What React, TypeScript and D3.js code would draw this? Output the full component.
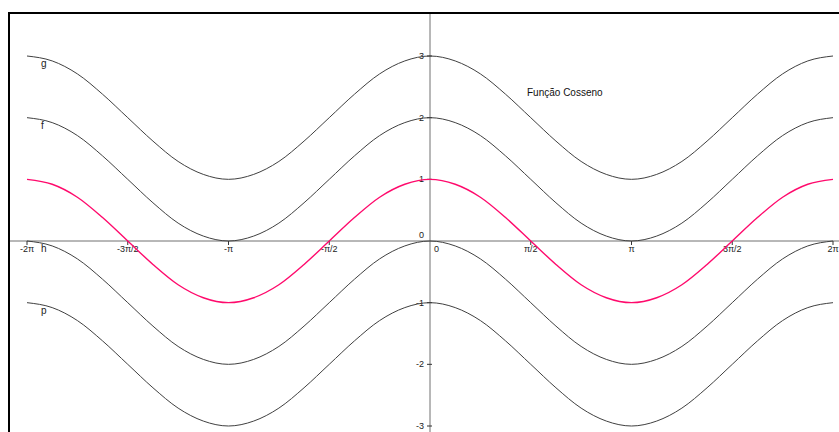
import { useEffect, useRef } from 'react';
import * as d3 from 'd3';

// x positions in multiples of pi
const xPi = [
  -2, -1.875, -1.75, -1.625, -1.5, -1.375, -1.25, -1.125, -1, -0.875, -0.75, -0.625, -0.5, -0.375, -0.25, -0.125,
  0, 0.125, 0.25, 0.375, 0.5, 0.625, 0.75, 0.875, 1, 1.125, 1.25, 1.375, 1.5, 1.625, 1.75, 1.875, 2,
];

const gValues = [3, 2.92, 2.71, 2.38, 2, 1.62, 1.29, 1.08, 1, 1.08, 1.29, 1.62, 2, 2.38, 2.71, 2.92, 3, 2.92, 2.71, 2.38, 2, 1.62, 1.29, 1.08, 1, 1.08, 1.29, 1.62, 2, 2.38, 2.71, 2.92, 3];
const fValues = [2, 1.92, 1.71, 1.38, 1, 0.62, 0.29, 0.08, 0, 0.08, 0.29, 0.62, 1, 1.38, 1.71, 1.92, 2, 1.92, 1.71, 1.38, 1, 0.62, 0.29, 0.08, 0, 0.08, 0.29, 0.62, 1, 1.38, 1.71, 1.92, 2];
const cosValues = [1, 0.92, 0.71, 0.38, 0, -0.38, -0.71, -0.92, -1, -0.92, -0.71, -0.38, 0, 0.38, 0.71, 0.92, 1, 0.92, 0.71, 0.38, 0, -0.38, -0.71, -0.92, -1, -0.92, -0.71, -0.38, 0, 0.38, 0.71, 0.92, 1];
const hValues = [0, -0.08, -0.29, -0.62, -1, -1.38, -1.71, -1.92, -2, -1.92, -1.71, -1.38, -1, -0.62, -0.29, -0.08, 0, -0.08, -0.29, -0.62, -1, -1.38, -1.71, -1.92, -2, -1.92, -1.71, -1.38, -1, -0.62, -0.29, -0.08, 0];
const pValues = [-1, -1.08, -1.29, -1.62, -2, -2.38, -2.71, -2.92, -3, -2.92, -2.71, -2.38, -2, -1.62, -1.29, -1.08, -1, -1.08, -1.29, -1.62, -2, -2.38, -2.71, -2.92, -3, -2.92, -2.71, -2.38, -2, -1.62, -1.29, -1.08, -1];

const xTickPi = [-2, -1.5, -1, -0.5, 0.5, 1, 1.5, 2];
const xTickLabels = ['-2π', '-3π/2', '-π', '-π/2', 'π/2', 'π', '3π/2', '2π'];
const yTicks = [-3, -2, -1, 1, 2, 3];

const W = 839;
const H = 432;

export default function App() {
  const svgRef = useRef<SVGSVGElement>(null);

  useEffect(() => {
    if (!svgRef.current) return;
    const svg = d3.select(svgRef.current);
    svg.selectAll('*').remove();

    const x = d3.scaleLinear().domain([-2 * Math.PI, 2 * Math.PI]).range([27, 833]);
    const y = d3.scaleLinear().domain([-3, 3]).range([426, 56]);
    const x0 = x(0);
    const y0 = y(0);
    const font = 'Liberation Sans, Arial, sans-serif';

    svg.append('rect').attr('width', W).attr('height', H).attr('fill', '#fff');

    // axes
    svg.append('line')
      .attr('x1', 9).attr('x2', W).attr('y1', y0).attr('y2', y0)
      .attr('stroke', '#707070').attr('stroke-width', 1);
    svg.append('line')
      .attr('x1', x0).attr('x2', x0).attr('y1', 13).attr('y2', H)
      .attr('stroke', '#707070').attr('stroke-width', 1);

    // x ticks
    const xt = svg.append('g');
    xTickPi.forEach((v, i) => {
      const px = x(v * Math.PI);
      xt.append('line')
        .attr('x1', px).attr('x2', px).attr('y1', y0).attr('y2', y0 + 4)
        .attr('stroke', '#333');
      xt.append('text')
        .attr('x', px).attr('y', y0 + 11)
        .attr('text-anchor', 'middle')
        .style('font-family', font).style('font-size', '9px').style('fill', '#222')
        .text(xTickLabels[i]);
    });
    xt.append('text')
      .attr('x', x0 + 4).attr('y', y0 + 11)
      .style('font-family', font).style('font-size', '9px').style('fill', '#222')
      .text('0');

    // y ticks
    const yt = svg.append('g');
    yTicks.forEach(v => {
      const py = y(v);
      yt.append('line')
        .attr('x1', x0 - 3).attr('x2', x0 + 2).attr('y1', py).attr('y2', py)
        .attr('stroke', '#333');
      yt.append('text')
        .attr('x', x0 - 6).attr('y', py + 3)
        .attr('text-anchor', 'end')
        .style('font-family', font).style('font-size', '9px').style('fill', '#222')
        .text(String(v));
    });
    yt.append('text')
      .attr('x', x0 - 6).attr('y', y0 - 3)
      .attr('text-anchor', 'end')
      .style('font-family', font).style('font-size', '9px').style('fill', '#222')
      .text('0');

    // curves
    const line = d3.line<number>()
      .x((_, i) => x(xPi[i] * Math.PI))
      .y(d => y(d))
      .curve(d3.curveMonotoneX);

    const series = [
      { values: gValues, color: '#404040', width: 1 },
      { values: fValues, color: '#404040', width: 1 },
      { values: hValues, color: '#404040', width: 1 },
      { values: pValues, color: '#404040', width: 1 },
      { values: cosValues, color: '#ff0a6c', width: 1.4 },
    ];
    series.forEach(s => {
      svg.append('path')
        .attr('d', line(s.values))
        .attr('fill', 'none')
        .attr('stroke', s.color)
        .attr('stroke-width', s.width);
    });

    // curve names
    const names = [
      { name: 'g', v: gValues[0] },
      { name: 'f', v: fValues[0] },
      { name: 'h', v: hValues[0] },
      { name: 'p', v: pValues[0] },
    ];
    names.forEach(n => {
      svg.append('text')
        .attr('x', 41).attr('y', y(n.v) + 11)
        .style('font-family', font).style('font-size', '10px').style('fill', '#222')
        .text(n.name);
    });

    svg.append('text')
      .attr('x', 527).attr('y', 96)
      .style('font-family', font).style('font-size', '10px').style('fill', '#111')
      .text('Função Cosseno');

    // frame
    svg.append('path')
      .attr('d', `M9,${H} V13 H${W}`)
      .attr('fill', 'none')
      .attr('stroke', '#000')
      .attr('stroke-width', 2);
  }, []);

  return (
    <svg
      ref={svgRef}
      width={W}
      height={H}
      style={{ position: 'absolute', left: 0, top: 0, display: 'block' }}
    />
  );
}
